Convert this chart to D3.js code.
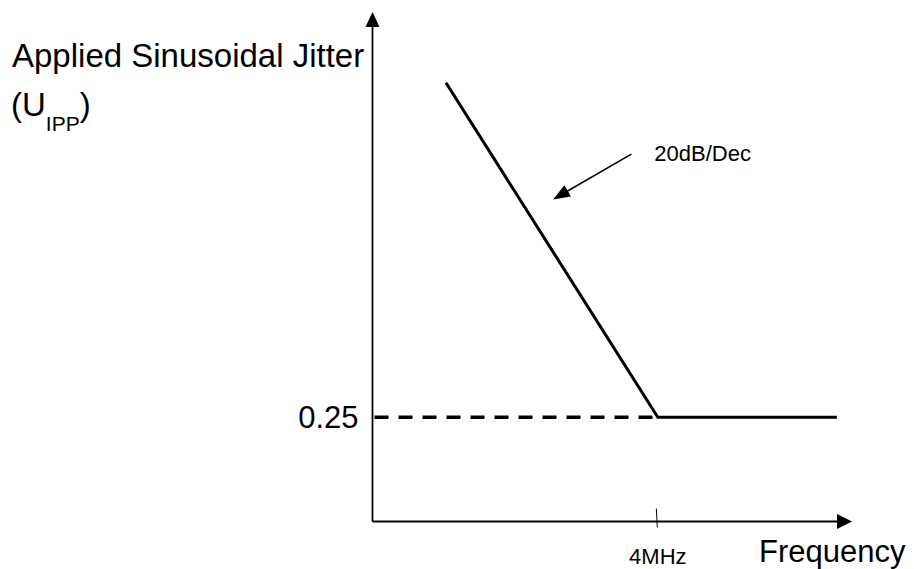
<!DOCTYPE html>
<meta charset="utf-8">
<title>Applied Sinusoidal Jitter</title>
<head>
<style>
body { margin: 0; background: #fff; }
svg text { font-family: Arial, "Liberation Sans", sans-serif; fill: #000; }
.mask { fill: none; stroke: #000; stroke-width: 3px; }
.ref { fill: none; stroke: #000; stroke-width: 3.5px; stroke-dasharray: 14 10; }
.axis { stroke: #000; stroke-width: 1.8px; }
</style>
</head>
<body>
<svg width="914" height="569"></svg>
<script src="https://d3js.org/d3.v7.min.js"></script>
<script>
// jitter tolerance mask (schematic, log-log)
var freqs  = [4e5, 4e6, 2.8e7];      // Hz
var jitter = [2.5, 0.25, 0.25];      // UIpp
var cornerFreq = 4e6, cornerLabel = "4MHz";
var refLevel = 0.25, refLabel = "0.25";
// slope callout: tail, head and label, in data units
var callout = {tail: [3.0e6, 1.53], head: [1.28e6, 1.12], label: [3.85e6, 1.46], text: "20dB/Dec"};

var svg = d3.select("svg");

var x = d3.scaleLog().domain([1.8e5, 3.3e7]).range([372.5, 852]),
    y = d3.scaleLog().domain([0.122, 4.07]).range([521.5, 12]);

var fLo = x.domain()[0], jLo = y.domain()[0];

// axes with arrow heads
svg.append("line").attr("class", "axis")
    .attr("x1", x(fLo)).attr("y1", y(jLo))
    .attr("x2", x(fLo)).attr("y2", y.range()[1] + 12);
svg.append("path")
    .attr("d", "M" + x(fLo) + "," + y.range()[1] + "l-7,15l14,0z");

svg.append("line").attr("class", "axis")
    .attr("x1", x(fLo)).attr("y1", y(jLo))
    .attr("x2", x.range()[1] - 12).attr("y2", y(jLo));
svg.append("path")
    .attr("d", "M" + x.range()[1] + "," + y(jLo) + "l-15,-7.5l0,15z");

// dashed reference level
svg.append("line").attr("class", "ref")
    .attr("x1", x(fLo) + 2).attr("y1", y(refLevel))
    .attr("x2", x(cornerFreq)).attr("y2", y(refLevel));

// the mask
var pts = freqs.map(function(f, i) { return [f, jitter[i]]; });
var line = d3.line()
    .x(function(d) { return x(d[0]); })
    .y(function(d) { return y(d[1]); });
svg.append("path").attr("class", "mask").attr("d", line(pts));

// tick at corner frequency
svg.append("line")
    .attr("x1", x(cornerFreq) - 1.5).attr("y1", y(jLo) - 13)
    .attr("x2", x(cornerFreq) - 0.5).attr("y2", y(jLo) + 6)
    .attr("stroke", "#000").attr("stroke-width", 1);
svg.append("text")
    .attr("x", x(cornerFreq)).attr("y", 564)
    .attr("text-anchor", "middle").style("font-size", "22px")
    .text(cornerLabel);

svg.append("text")
    .attr("x", x(fLo) - 14).attr("y", y(refLevel) + 11)
    .attr("text-anchor", "end").style("font-size", "31px")
    .text(refLabel);

// callout arrow
var tx = x(callout.tail[0]), ty = y(callout.tail[1]),
    hx = x(callout.head[0]), hy = y(callout.head[1]);
var ang = Math.atan2(hy - ty, hx - tx) * 180 / Math.PI;
svg.append("line")
    .attr("x1", tx).attr("y1", ty)
    .attr("x2", hx + (tx - hx) * 0.12).attr("y2", hy + (ty - hy) * 0.12)
    .attr("stroke", "#000").attr("stroke-width", 1.6);
svg.append("path")
    .attr("transform", "translate(" + hx + "," + hy + ") rotate(" + ang + ")")
    .attr("d", "M0,0L-17,-6.5L-17,6.5z");
svg.append("text")
    .attr("x", x(callout.label[0])).attr("y", y(callout.label[1]))
    .style("font-size", "22px")
    .text(callout.text);

// axis titles
svg.append("text")
    .attr("x", 12).attr("y", 67)
    .style("font-size", "33px")
    .text("Applied Sinusoidal Jitter");
var yl = svg.append("text")
    .attr("x", 11).attr("y", 116)
    .style("font-size", "33px");
yl.append("tspan").text("(U");
yl.append("tspan").attr("dy", 15).style("font-size", "21px").text("IPP");
yl.append("tspan").attr("dy", -15).text(")");

svg.append("text")
    .attr("x", 759).attr("y", 562)
    .style("font-size", "31px")
    .text("Frequency");
</script>
</body>
</html>
